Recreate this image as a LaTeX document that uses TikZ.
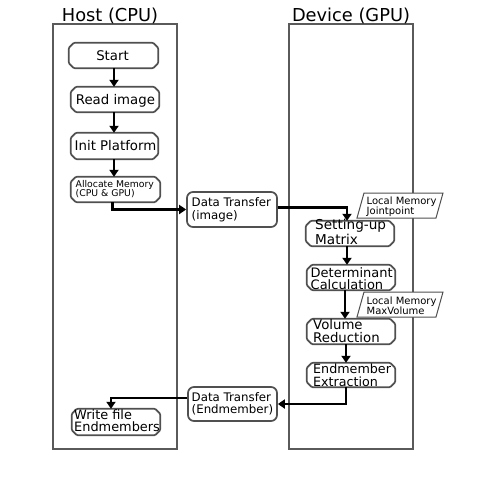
\documentclass[tikz,border=0pt]{standalone}
\usepackage{fontspec}
\setmainfont{DejaVu Sans}
\usetikzlibrary{arrows.meta}
\newcommand\myfs[2]{\fontsize{#1}{#2}\selectfont}
\newcommand\chbox[1]{\draw[cline] ([xshift=5pt]#1.north west) -- ([xshift=-5pt]#1.north east) -- ([yshift=-5pt]#1.north east) -- ([yshift=5pt]#1.south east) -- ([xshift=-5pt]#1.south east) -- ([xshift=5pt]#1.south west) -- ([yshift=5pt]#1.south west) -- ([yshift=-5pt]#1.north west) -- cycle;}
\definecolor{boxgray}{HTML}{505050}
\definecolor{lanegray}{HTML}{5A5A5A}
\begin{document}
\begin{tikzpicture}[x=1pt,y=-1pt,
  lane/.style={draw=lanegray,line width=1.5pt},
  cbox/.style={rectangle, inner sep=0pt},
  cline/.style={draw=boxgray, line width=1.7pt, rounded corners=1pt, fill=white},
  rbox/.style={rectangle, rounded corners=6pt, draw=boxgray, line width=1.7pt, inner sep=0pt, fill=white},
  memo/.style={draw=boxgray, line width=1pt, fill=white},
  arr/.style={draw=black, line width=2.8pt, -{Triangle[length=7pt,width=9pt]}},
  tx/.style={inner sep=0pt, align=left, anchor=base west},
  big/.style={font=\myfs{13.3}{12.5}},
  mid/.style={font=\myfs{11.8}{12.5}},
  small/.style={font=\myfs{9.3}{9.5}},
  memofont/.style={font=\myfs{10}{10}},
  title/.style={inner sep=0pt, anchor=base, font=\myfs{17.8}{20}}
]
\useasboundingbox (0,0) rectangle (496,480);
\fill[white] (0,0) rectangle (496,480);

% lanes
\draw[lane] (53,24) rectangle (177,449);
\draw[lane] (289,24) rectangle (413,449);
\node[title] (hostT) at (110,21) {Host (CPU)};
\node[title] (devT) at (351,21) {Device (GPU)};

% boxes
\node[cbox, minimum width=89pt, minimum height=25pt] (start) at (113.5,55.5) {};
\node[cbox, minimum width=88pt, minimum height=25pt] (read) at (115,99.5) {};
\node[cbox, minimum width=87pt, minimum height=26pt] (init) at (114.5,146) {};
\node[cbox, minimum width=89pt, minimum height=25pt] (alloc) at (115.5,189.5) {};
\node[rbox, minimum width=90pt, minimum height=35pt] (dt1) at (232,209.5) {};
\node[cbox, minimum width=88pt, minimum height=25pt] (setup) at (350,233.5) {};
\node[cbox, minimum width=88pt, minimum height=25pt] (det) at (351,277.5) {};
\node[cbox, minimum width=88pt, minimum height=25pt] (vol) at (351,331.5) {};
\node[cbox, minimum width=88pt, minimum height=24pt] (endm) at (351,375) {};
\node[rbox, minimum width=89pt, minimum height=34pt] (dt2) at (232.5,404) {};
\node[cbox, minimum width=88pt, minimum height=26pt] (write) at (116,422) {};
\chbox{start}\chbox{read}\chbox{init}\chbox{alloc}
\chbox{setup}\chbox{det}\chbox{vol}\chbox{endm}\chbox{write}

% memo parallelograms
\draw[memo] (357,218) -- (364,193) -- (443,193) -- (436,218) -- cycle;
\draw[memo] (357,317) -- (364,292) -- (443,292) -- (436,317) -- cycle;

% texts (base = baseline of last line)
\node[big, inner sep=0pt, anchor=base] (startT) at (112.5,60.2) {Start};
\node[big, inner sep=0pt, anchor=base] (readT) at (115.4,104.2) {Read image};
\node[big, inner sep=0pt, anchor=base] (initT) at (115.5,150.7) {Init Platform};
\node[tx, small] (allocT) at (75.5,196.7) {Allocate Memory\\(CPU \& GPU)};
\node[tx, mid] (dt1T) at (191.5,219) {Data Transfer\\(image)};
\node[tx, memofont] (lm1T) at (366.5,214.3) {Local Memory\\Jointpoint};
\node[tx, font=\myfs{13.6}{11}] (setupT) at (315,244) {Setting-up\\Matrix};
\node[tx, font=\myfs{13}{12}] (detT) at (310.5,289) {Determinant\\Calculation};
\node[tx, font=\myfs{13.3}{13}] (volT) at (313,342) {Volume\\Reduction};
\node[tx, memofont] (lm2T) at (366.5,314.3) {Local Memory\\MaxVolume};
\node[tx, font=\myfs{12.7}{13}] (endmT) at (313,386) {Endmember\\Extraction};
\node[tx, mid] (dt2T) at (191.5,413.7) {Data Transfer\\(Endmember)};
\node[tx, font=\myfs{12.9}{12.5}] (writeT) at (74,431.5) {Write file\\Endmembers};

% connectors
\draw[arr] ([xshift=0.5pt]start.south) -- ([xshift=0.5pt]start.south |- read.north);
\draw[arr] ([xshift=-1pt]read.south) -- ([xshift=-1pt]read.south |- init.north);
\draw[arr] ([xshift=-0.5pt]init.south) -- ([xshift=-0.5pt]init.south |- alloc.north);
\draw[arr] ([xshift=-3pt]alloc.south) |- (dt1.west);
\draw[arr] ([yshift=2pt]dt1.east) -| ([xshift=-3pt]setup.north);
\draw[arr] ([xshift=-3pt]setup.south) -- ([xshift=-3pt]setup.south |- det.north);
\draw[arr] ([xshift=-6pt]det.south) -- ([xshift=-6pt]det.south |- vol.north);
\draw[arr] ([xshift=-5pt]vol.south) -- ([xshift=-5pt]vol.south |- endm.north);
\draw[arr] ([xshift=-5pt]endm.south) |- (dt2.east);
\draw[arr] ([yshift=6pt]dt2.west) -| ([xshift=-5pt]write.north);
\end{tikzpicture}
\end{document}
